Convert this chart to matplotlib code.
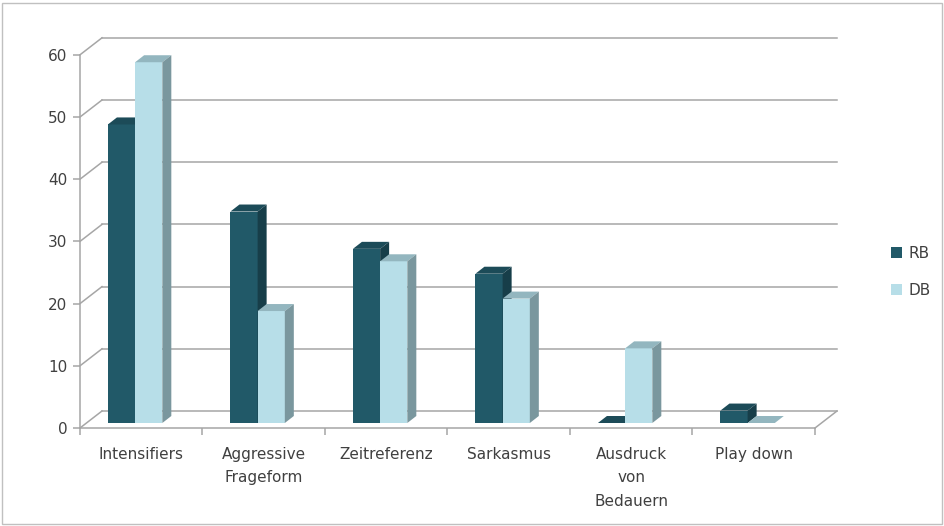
import matplotlib.pyplot as plt
from matplotlib.patches import Polygon, Patch, Rectangle

# data
categories = ["Intensifiers", "Aggressive\nFrageform", "Zeitreferenz",
              "Sarkasmus", "Ausdruck\nvon\nBedauern", "Play down"]
rb = [48, 34, 28, 24, 0, 2]
db = [58, 18, 26, 20, 12, 0]
yticks = [0, 10, 20, 30, 40, 50, 60]

# colours: front, top, side
rb_col = ("#215968", "#1c4b58", "#173e49")
db_col = ("#b7dee8", "#93b6bf", "#7a979e")
grid_col = "#a6a6a6"
text_col = "#404040"

W, H = 945, 526
fig = plt.figure(figsize=(W / 100, H / 100), dpi=100)

# front plane in pixels: x=0 at 80px, one category = 122.5px; value 0 at 428px, 1 unit = 6.22px
x0, cw = 80, 122.5
y0, vu = 428, 6.22
L, R, T, B = 40, 860, 20, 445
ax = fig.add_axes([L / W, 1 - B / H, (R - L) / W, (B - T) / H])
ax.set_xlim((L - x0) / cw, (R - x0) / cw)
ax.set_ylim((y0 - B) / vu, (y0 - T) / vu)

n = len(categories)
ymax = yticks[-1]
DX, DY = 22 / cw, 17 / vu          # depth of the whole plot box
bdx, bdy = 9 / cw, 7 / vu          # depth of a bar
base = 5 / vu                      # bars stand a bit behind the front edge
bw = 0.222
offs = [0.228, 0.45]

# back wall gridlines + left wall diagonals
for v in yticks:
    ax.plot([DX, n + DX], [v + DY, v + DY], color=grid_col, lw=1.1, zorder=1)
    ax.plot([0, DX], [v, v + DY], color=grid_col, lw=1.1, zorder=1)
# floor right edge
ax.plot([n, n + DX], [0, DY], color=grid_col, lw=1.1, zorder=1)


def bar3d(x, v, cols):
    b = base
    ax.add_patch(Rectangle((x, b), bw, v, facecolor=cols[0], edgecolor="none", zorder=3))
    ax.add_patch(Polygon([(x, b + v), (x + bw, b + v), (x + bw + bdx, b + v + bdy),
                          (x + bdx, b + v + bdy)], closed=True,
                         facecolor=cols[1], edgecolor="none", zorder=3))
    ax.add_patch(Polygon([(x + bw, b), (x + bw + bdx, b + bdy), (x + bw + bdx, b + v + bdy),
                          (x + bw, b + v)], closed=True,
                         facecolor=cols[2], edgecolor="none", zorder=3))


for i in range(n):
    bar3d(i + offs[0], rb[i], rb_col)
    bar3d(i + offs[1], db[i], db_col)

# axes (front edges)
for s in ["top", "right"]:
    ax.spines[s].set_visible(False)
ax.spines["left"].set_position(("data", 0))
ax.spines["left"].set_bounds(0, ymax)
ax.spines["bottom"].set_position(("data", 0))
ax.spines["bottom"].set_bounds(0, n)
for s in ["left", "bottom"]:
    ax.spines[s].set_color(grid_col)
    ax.spines[s].set_linewidth(1.1)

fs = 11
ax.set_yticks(yticks)
ax.set_yticklabels([str(v) for v in yticks])
ax.set_xticks(range(n + 1))
ax.set_xticklabels([])
ax.set_xticks([i + 0.5 for i in range(n)], minor=True)
ax.set_xticklabels(categories, minor=True, linespacing=1.67, va="top")
ax.tick_params(which="major", length=5, width=1.1, color=grid_col,
               labelsize=fs, labelcolor=text_col)
ax.tick_params(axis="y", pad=4)
ax.tick_params(axis="x", which="minor", length=0, pad=14, labelsize=fs, labelcolor=text_col)

leg = fig.legend(handles=[Patch(facecolor=rb_col[0], label="RB"),
                          Patch(facecolor=db_col[0], label="DB")],
                 loc="center left", bbox_to_anchor=(883 / W, 1 - 272 / H),
                 frameon=False, fontsize=fs, handlelength=0.75, handleheight=0.75,
                 handletextpad=0.45, labelspacing=1.45, borderpad=0)
for t in leg.get_texts():
    t.set_color(text_col)

fig.patches.append(Rectangle((2 / W, 2 / H), 940 / W, 521 / H, transform=fig.transFigure,
                             fill=False, edgecolor="#c0c0c0", lw=1))

fig.savefig("out.png", dpi=100)
